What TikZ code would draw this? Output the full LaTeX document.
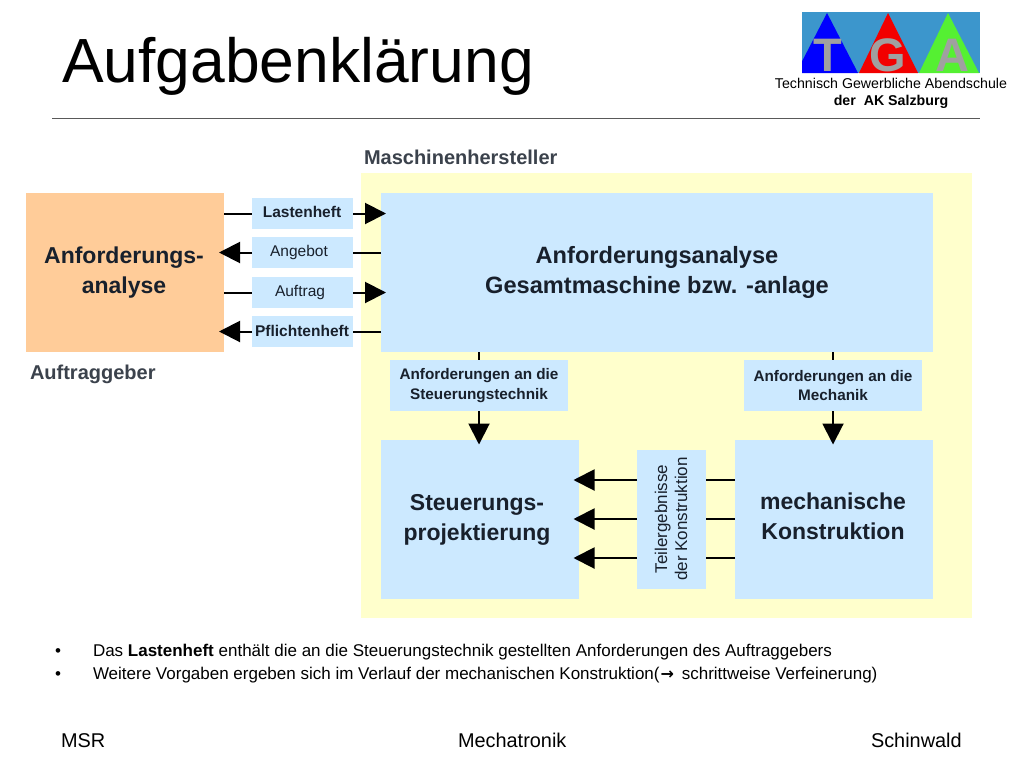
\documentclass[tikz,border=0pt]{standalone}
\usepackage{fontspec}
\setmainfont{Liberation Sans}
\newfontfamily\symfont{DejaVu Sans}
\usetikzlibrary{arrows.meta}
\definecolor{paleyellow}{HTML}{FFFFCC}
\definecolor{paleblue}{HTML}{CCE9FF}
\definecolor{paleorange}{HTML}{FFCC99}
\definecolor{inkdark}{HTML}{18202C}
\definecolor{logoblue}{HTML}{3C96CC}
\definecolor{logogray}{HTML}{A0A0A0}
\definecolor{logogreen}{HTML}{55F032}
\tikzset{
  x=1pt,y=-1pt,
  every node/.style={inner sep=0pt,outer sep=0pt,align=center,text=inkdark},
  panel/.style={fill=paleblue,draw=none},
  bigfont/.style={font=\bfseries\fontsize{23}{30}\selectfont},
  bigbox/.style={panel,minimum width=198pt,minimum height=159pt,bigfont},
  tagbox/.style={panel,minimum width=101pt,minimum height=31pt,font=\bfseries\fontsize{15.5}{17}\selectfont},
  tagplain/.style={tagbox,font=\fontsize{15.5}{17}\selectfont},
  reqbox/.style={panel,minimum width=178pt,minimum height=51pt,font=\bfseries\fontsize{15.3}{19.5}\selectfont},
  plain/.style={line width=2pt,draw=black},
  arrowline/.style={plain,-{Triangle[length=21pt,width=21pt]},shorten >=-5pt},
  heading/.style={font=\bfseries\fontsize{20}{22}\selectfont,anchor=base west,text=inkdark!85},
  slidetext/.style={anchor=base west,text=black},
  bodytext/.style={slidetext,font=\fontsize{17}{20}\selectfont},
  foottext/.style={slidetext,font=\fontsize{19.9}{22}\selectfont},
  logotext/.style={font=\bfseries\fontsize{47}{47}\selectfont,text=logogray,anchor=base}
}
\begin{document}
\begin{tikzpicture}
\useasboundingbox (0,0) rectangle (1024,768);
\fill[white] (0,0) rectangle (1024,768);
% title and rule
\node[slidetext,font=\fontsize{62.4}{70}\selectfont] (title) at (62,82) {Aufgabenklärung};
\draw[draw=black!65,line width=1pt] (52,118) coordinate (ruleL) -- (980,118) coordinate (ruleR);
% logo
\fill[logoblue] (802,12) rectangle (980,73);
\begin{scope}
\clip (802,12) rectangle (980,73);
\fill[blue] (827,13) -- (858,73) -- (796,73) -- cycle;
\fill[red!95!black] (888,13) -- (918,73) -- (859,73) -- cycle;
\fill[logogreen] (948,13) -- (979,73) -- (919,73) -- cycle;
\node[logotext] (logoT) at (828,71) {T};
\node[logotext] (logoG) at (888,71) {G};
\node[logotext] (logoA) at (952,71) {A};
\end{scope}
\node[font=\fontsize{14.2}{17}\selectfont,text=black] (school) at (891,93.5) {Technisch Gewerbliche Abendschule\\\textbf{der\ \ AK Salzburg}};
% regions
\fill[paleyellow] (361,173) rectangle (972,618);
\node[heading] (maker) at (364,164) {Maschinenhersteller};
\node[heading] (client) at (30,379) {Auftraggeber};
\node[bigbox,fill=paleorange] (orange) at (125,272.5) {};
\node[bigfont] (orangeT) at (124,272.5) {Anforderungs-\\analyse};
\node[bigbox,minimum width=552pt,font=\bfseries\fontsize{23.6}{30}\selectfont] (main) at (657,272.5) {Anforderungsanalyse\\Gesamtmaschine bzw. -anlage};
\node[tagbox] (last) at (302.5,213.5) {};
\node[font=\bfseries\fontsize{15.5}{17}\selectfont] (lastT) at (302,212) {Lastenheft};
\node[tagplain] (angebot) at (302.5,252.5) {};
\node[font=\fontsize{15.5}{17}\selectfont] (angebotT) at (299,252) {Angebot};
\node[tagplain] (auftrag) at (302.5,292.5) {};
\node[font=\fontsize{15.5}{17}\selectfont] (auftragT) at (300,292.5) {Auftrag};
\node[tagbox] (pflicht) at (302.5,331.5) {};
\node[font=\bfseries\fontsize{15.5}{17}\selectfont] (pflichtT) at (302,330.5) {Pflichtenheft};
\node[reqbox] (reqS) at (479,385.5) {Anforderungen an die\\Steuerungstechnik};
\node[reqbox] (reqM) at (833,385.5) {Anforderungen an die\\Mechanik};
\node[bigbox] (steu) at (479.5,519) {};
\node[bigfont] (steuT) at (477,520) {Steuerungs-\\projektierung};
\node[bigbox] (mech) at (834,519) {};
\node[bigfont] (mechT) at (833,519) {mechanische\\Konstruktion\vphantom{g}};
\node[panel,minimum width=69pt,minimum height=139pt] (teil) at (671.5,519.5) {};
\node[rotate=90,font=\fontsize{17}{20}\selectfont] (teilT) at (671,519) {Teilergebnisse\\der Konstruktion};
% connectors
\draw[plain] (orange.east |- last.west) -- (last.west);
\draw[arrowline] (last.east) -- (main.west |- last.east);
\draw[plain] (main.west |- angebot.east) -- (angebot.east);
\draw[arrowline] (angebot.west) -- (orange.east |- angebot.west);
\draw[plain] (orange.east |- auftrag.west) -- (auftrag.west);
\draw[arrowline] (auftrag.east) -- (main.west |- auftrag.east);
\draw[plain] (main.west |- pflicht.east) -- (pflicht.east);
\draw[arrowline] (pflicht.west) -- (orange.east |- pflicht.west);
\draw[plain] (main.south -| reqS.north) -- (reqS.north);
\draw[arrowline] (reqS.south) -- (steu.north -| reqS.south);
\draw[plain] (main.south -| reqM.north) -- (reqM.north);
\draw[arrowline] (reqM.south) -- (mech.north -| reqM.south);
\foreach \y in {480,519,558} {
  \coordinate (tl) at (teil.west |- 0,\y);
  \coordinate (tr) at (teil.east |- 0,\y);
  \draw[arrowline] (tl) -- (steu.east |- tl);
  \draw[plain] (mech.west |- tr) -- (tr);
}
% bullets
\node[bodytext] (b1) at (55,656.5) {•};
\node[bodytext] (t1) at (93,656.5) {Das \textbf{Lastenheft} enthält die an die Steuerungstechnik gestellten Anforderungen des Auftraggebers};
\node[bodytext] (b2) at (55,679.5) {•};
\node[bodytext] (t2) at (93,679.5) {Weitere Vorgaben ergeben sich im Verlauf der mechanischen Konstruktion({\symfont\bfseries\fontsize{16}{16}\selectfont\kern1pt →\kern3pt} schrittweise Verfeinerung)};
% footer
\node[foottext] (f1) at (61,747.5) {MSR};
\node[foottext] (f2) at (458,747.5) {Mechatronik};
\node[foottext] (f3) at (871,747.5) {Schinwald};
\end{tikzpicture}
\end{document}
